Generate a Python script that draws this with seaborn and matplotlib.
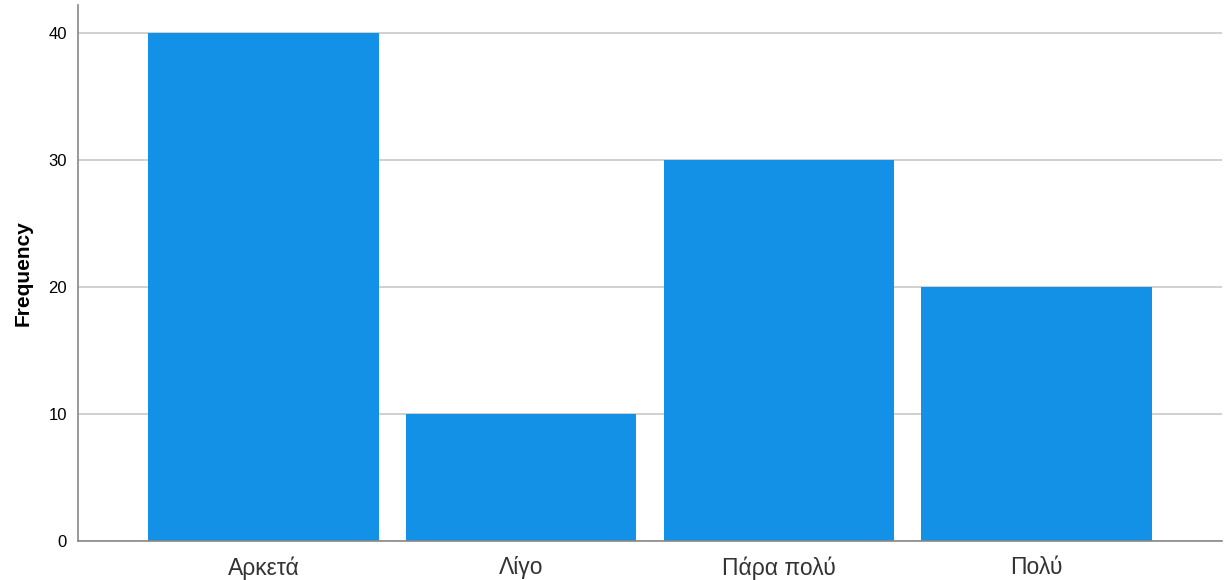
import matplotlib
matplotlib.use('Agg')
import matplotlib.pyplot as plt
import pandas as pd
import seaborn as sns

categories = ['Αρκετά', 'Λίγο', 'Πάρα πολύ', 'Πολύ']
frequency = [40, 10, 30, 20]
yticks = [0, 10, 20, 30, 40]

df = pd.DataFrame({'category': categories, 'Frequency': frequency})

sns.set_style('white')
plt.rcParams['font.family'] = ['Liberation Sans', 'DejaVu Sans']

fig = plt.figure(figsize=(12.29, 5.8), dpi=100)
ax = fig.add_axes([0.0635, 0.0672, 0.9308, 0.9242])

ax.yaxis.grid(True, color='#c8c8c8', linewidth=1.2)
ax.set_axisbelow(True)
sns.barplot(data=df, x='category', y='Frequency', color='#1391e6',
            saturation=1, width=0.895, linewidth=0, ax=ax)

ax.set_xlim(-0.719, 3.719)
ax.set_ylim(0, 42.2)
ax.set_yticks(yticks)
ax.set_xlabel('')
ax.set_ylabel('Frequency', fontsize=15, fontweight='bold', labelpad=11,
              color='black')
ax.tick_params(axis='y', labelsize=12, length=0, pad=8, labelcolor='black')
ax.tick_params(axis='x', labelsize=16.5, length=0, pad=11, labelcolor='#333333')

for side in ['top', 'right']:
    ax.spines[side].set_visible(False)
for side in ['left', 'bottom']:
    ax.spines[side].set_color('#888888')
    ax.spines[side].set_linewidth(1.2)

fig.savefig('out.png', dpi=100)
